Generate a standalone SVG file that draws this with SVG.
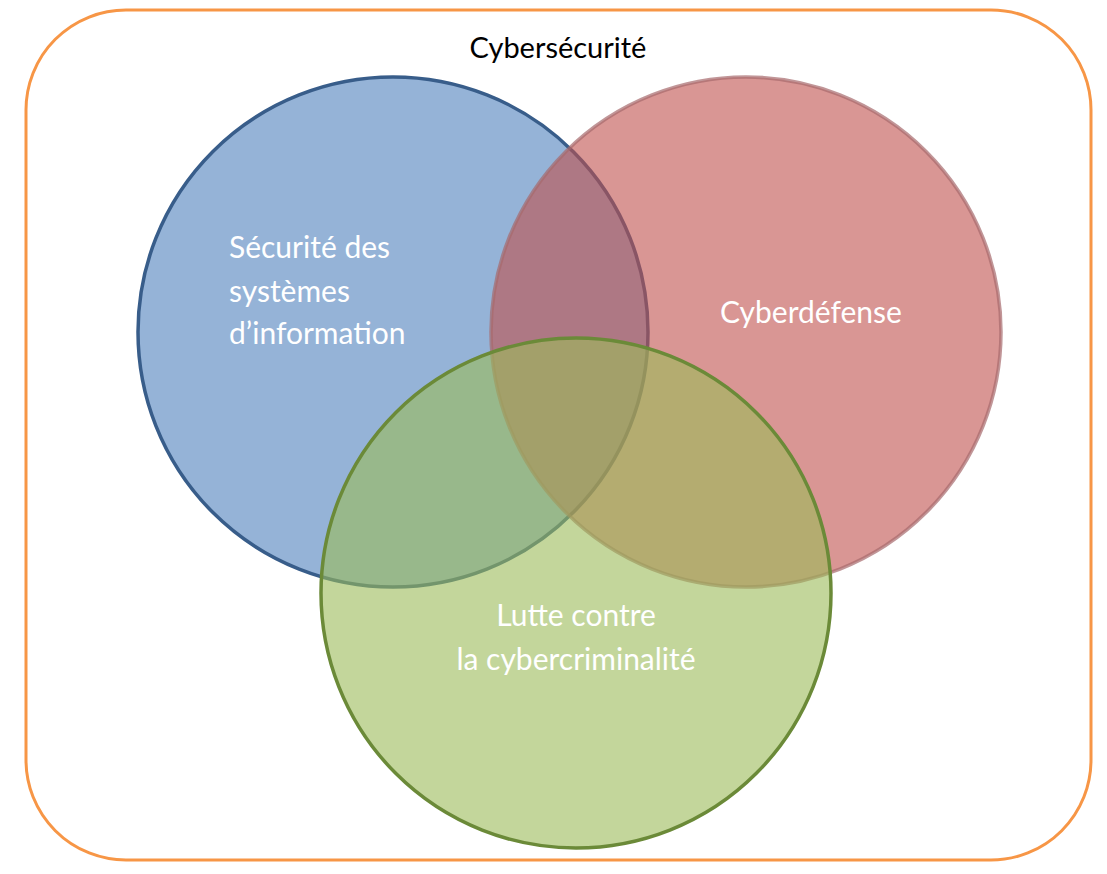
<svg xmlns="http://www.w3.org/2000/svg" width="1107" height="874" viewBox="0 0 1107 874">
<style>
text{font-family:Lato,"Open Sans","Liberation Sans",sans-serif;font-size:30px;fill:#fff}
.c{stroke-width:3.5}
</style>
<rect width="1107" height="874" fill="#fff"/>
<g id="outer"><rect x="26" y="10" width="1065" height="850" rx="100" fill="none" stroke="#F79646" stroke-width="3"/>
<text x="558" y="58" text-anchor="middle" style="fill:#000;font-size:29px">Cybersécurité</text></g>
<g id="blue"><circle class="c" cx="393" cy="332" r="255" fill="#4F81BD" fill-opacity="0.6" stroke="#385D8A"/></g>
<g id="red"><circle class="c" cx="746" cy="332" r="255" fill="#C0504D" fill-opacity="0.6" stroke="#A66A6C" stroke-opacity="0.7"/></g>
<g id="green"><circle class="c" cx="576" cy="593" r="255" fill="#9BBB59" fill-opacity="0.6" stroke="#6B8A38"/></g>
<g id="labels">
<text x="229" y="258">Sécurité des</text>
<text x="229" y="302">systèmes</text>
<text x="229" y="344">d’information</text>
<text x="811" y="323" text-anchor="middle">Cyberdéfense</text>
<text x="576" y="626" text-anchor="middle">Lutte contre</text>
<text x="576" y="670" text-anchor="middle">la cybercriminalité</text>
</g>
<g id="connectors"/>
</svg>
